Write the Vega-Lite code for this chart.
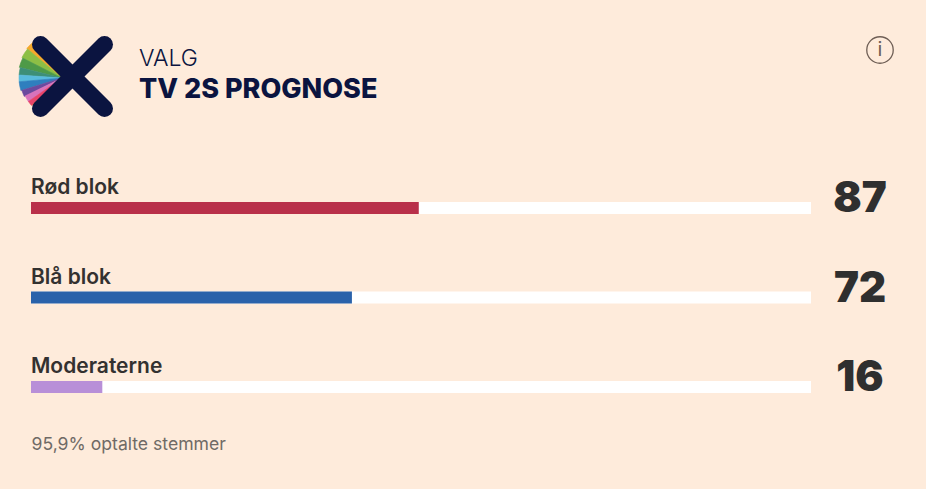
{
"$schema":"https://vega.github.io/schema/vega-lite/v6.json",
"width":780,"height":268.5,
"autosize":{"type":"none"},
"padding":{"left":31,"top":163.25,"right":115,"bottom":57},
"background":"#FEEBDB",
"config":{"view":{"stroke":null},"font":"Inter"},
"title":{"text":"VALG","subtitle":"TV 2S PROGNOSE","anchor":"start","frame":"group","dx":108,"dy":69,"offset":0,"font":"Inter","fontSize":23,"fontWeight":300,"color":"#0B1440","subtitleFont":"Inter","subtitleFontSize":27,"subtitleFontWeight":800,"subtitleColor":"#0B1440","subtitlePadding":6},
"datasets":{
"rows":[
{"blok":"Rød blok","mandater":87,"total":175},
{"blok":"Blå blok","mandater":72,"total":175},
{"blok":"Moderaterne","mandater":16,"total":175}],
"fan":[
{"part":"a","from":310,"to":321,"r":46,"farve":"#F5A82C"},
{"part":"b","from":297,"to":310,"r":45,"farve":"#8DBF45"},
{"part":"c","from":284,"to":297,"r":44,"farve":"#4E9A48"},
{"part":"d","from":274,"to":284,"r":43,"farve":"#3D8F78"},
{"part":"e","from":265,"to":274,"r":43,"farve":"#58BBDD"},
{"part":"f","from":253,"to":265,"r":43,"farve":"#2F7FBE"},
{"part":"g","from":244,"to":253,"r":42,"farve":"#6B4A9E"},
{"part":"h","from":235,"to":244,"r":41,"farve":"#D873BC"},
{"part":"i","from":228,"to":235,"r":41,"farve":"#E8436A"},
{"part":"j","from":218,"to":228,"r":40,"farve":"#E8603D"}],
"kryds":[
{"x":40.5,"y":44.5,"x2":104.5,"y2":108.5},
{"x":104.5,"y":44.5,"x2":40.5,"y2":108.5}]
},
"resolve":{"scale":{"x":"independent","y":"independent","color":"independent","theta":"independent","radius":"independent"},"axis":{"x":"independent","y":"independent"}},
"layer":[
{"data":{"name":"rows"},"mark":{"type":"bar","color":"#FFFFFF","size":12},
"encoding":{
"x":{"field":"total","type":"quantitative","scale":{"domain":[0,175]},"axis":{"title":"95,9% optalte stemmer","domain":false,"ticks":false,"labels":false,"grid":false,"titleFont":"Inter","titleFontSize":17.6,"titleFontWeight":400,"titleColor":"#6F6A66","titleAnchor":"start","titleAlign":"left","titleBaseline":"alphabetic","titleX":0,"titleY":18}},
"y":{"field":"blok","type":"nominal","sort":null,"axis":null}}},
{"data":{"name":"rows"},"mark":{"type":"bar","size":12},
"encoding":{
"x":{"field":"mandater","type":"quantitative","scale":{"domain":[0,175]},"axis":null},
"y":{"field":"blok","type":"nominal","sort":null,"axis":null},
"color":{"field":"blok","type":"nominal","sort":null,"legend":null,"scale":{"domain":["Rød blok","Blå blok","Moderaterne"],"range":["#B9304A","#2A62AA","#B88FD8"]}}}},
{"data":{"name":"rows"},"mark":{"type":"text","align":"left","baseline":"alphabetic","dy":-14,"font":"Inter","fontSize":21,"fontWeight":600,"color":"#333130"},
"encoding":{
"x":{"datum":0,"type":"quantitative","scale":{"domain":[0,175]},"axis":null},
"y":{"field":"blok","type":"nominal","sort":null,"axis":null},
"text":{"field":"blok"}}},
{"data":{"name":"rows"},"mark":{"type":"text","align":"center","baseline":"alphabetic","dx":49,"dy":4,"font":"Inter","fontSize":42,"fontWeight":900,"color":"#2F2F2F"},
"encoding":{
"x":{"field":"total","type":"quantitative","scale":{"domain":[0,175]},"axis":null},
"y":{"field":"blok","type":"nominal","sort":null,"axis":null},
"text":{"field":"mandater"}}},
{"data":{"name":"fan"},"mark":{"type":"arc","strokeWidth":0.6},
"encoding":{
"x":{"datum":62,"type":"quantitative","scale":{"domain":[31,811]},"axis":null},
"y":{"datum":78,"type":"quantitative","scale":{"domain":[163.25,431.75],"reverse":true},"axis":null},
"theta":{"field":"from","type":"quantitative","stack":null,"scale":{"domain":[0,360],"range":[0,6.2832]}},
"theta2":{"field":"to"},
"radius":{"field":"r","type":"quantitative","scale":{"type":"linear","domain":[0,50],"range":[0,50]}},
"color":{"field":"farve","type":"nominal","scale":null,"legend":null},
"stroke":{"field":"farve","type":"nominal","scale":null,"legend":null}}},
{"data":{"name":"kryds"},"mark":{"type":"rule","strokeWidth":17,"strokeCap":"round","color":"#0B1440"},
"encoding":{
"x":{"field":"x","type":"quantitative","scale":{"domain":[31,811]},"axis":null},
"y":{"field":"y","type":"quantitative","scale":{"domain":[163.25,431.75],"reverse":true},"axis":null},
"x2":{"field":"x2"},"y2":{"field":"y2"}}},
{"data":{"values":[{"ikon":"i"}]},"mark":{"type":"point","filled":false,"size":700,"color":"#6E5E55","strokeWidth":1.3,"opacity":1},
"encoding":{
"x":{"datum":880,"type":"quantitative","scale":{"domain":[31,811]},"axis":null},
"y":{"datum":50,"type":"quantitative","scale":{"domain":[163.25,431.75],"reverse":true},"axis":null}}},
{"data":{"values":[{"ikon":"i"}]},"mark":{"type":"text","align":"center","baseline":"middle","font":"Inter","fontSize":20,"fontWeight":400,"color":"#6E5E55"},
"encoding":{
"x":{"datum":880,"type":"quantitative","scale":{"domain":[31,811]},"axis":null},
"y":{"datum":50,"type":"quantitative","scale":{"domain":[163.25,431.75],"reverse":true},"axis":null},
"text":{"field":"ikon"}}}
]
}
